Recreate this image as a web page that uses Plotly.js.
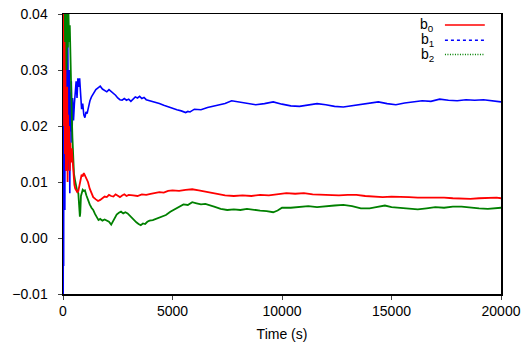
<!DOCTYPE html>
<html>
<head>
<meta charset="utf-8">
<script src="https://cdn.plot.ly/plotly-3.0.1.min.js"></script>
<style>html,body{margin:0;padding:0;background:#fff;}#chart{width:528px;height:344px;}</style>
</head>
<body>
<div id="chart"></div>
<script>
// Time (s)
var t_b0 = [0,15,30,50,70,90,110,130,150,170,190,210,230,250,280,310,340,370,400,440,480,520,560,600,650,700,750,800,850,900,950,1000,1070,1140,1220,1300,1380,1500,1600,1700,1800,1900,2000,2100,2200,2300,2400,2500,2600,2700,2800,2900,3000,3200,3400,3600,3800,4000,4200,4400,4600,4800,5000,5300,5600,5900,6200,6600,7000,7400,7800,8200,8600,9000,9400,9800,10200,10600,11000,11400,11800,12200,12600,13000,13400,13800,14200,14600,15000,15400,15800,16200,16600,17000,17400,17800,18200,18600,19000,19400,19800,20000];
var b0 = [0.040,0.030,0.038,0.020,0.035,0.015,0.030,0.012,0.026,0.018,0.027,0.010,0.022,0.014,0.020,0.012,0.017,0.0135,0.016,0.013,0.011,0.0095,0.0088,0.0085,0.0082,0.0084,0.0095,0.0108,0.0113,0.0110,0.0116,0.0112,0.0106,0.0100,0.0088,0.0079,0.0073,0.0069,0.0066,0.0068,0.0071,0.0074,0.0073,0.0077,0.0075,0.0074,0.0078,0.0076,0.0073,0.0076,0.0078,0.0075,0.0077,0.0076,0.0075,0.0078,0.0077,0.0079,0.0080,0.0082,0.0081,0.0084,0.0085,0.0084,0.0086,0.0087,0.0085,0.0082,0.0079,0.0076,0.0075,0.0076,0.0075,0.0077,0.0076,0.0078,0.0080,0.0079,0.0080,0.0078,0.0077,0.0077,0.0076,0.0077,0.0077,0.0075,0.0074,0.0073,0.0074,0.0074,0.0073,0.0072,0.0072,0.0073,0.0072,0.0071,0.0070,0.0070,0.0071,0.0072,0.0072,0.0071];

var t_b1 = [0,10,20,30,40,55,70,85,100,115,130,150,170,190,210,230,250,270,290,310,330,350,380,410,440,480,520,560,600,640,680,720,760,800,850,900,950,1000,1050,1100,1160,1230,1300,1400,1500,1600,1700,1800,1900,2000,2100,2200,2300,2400,2500,2600,2700,2800,2900,3000,3100,3200,3300,3400,3500,3600,3700,3800,3900,4000,4200,4400,4600,4800,5000,5200,5400,5600,5700,5800,6000,6300,6600,7000,7400,7700,8000,8400,8800,9200,9600,10000,10400,10800,11200,11600,12000,12400,12800,13200,13600,14000,14400,14800,15200,15600,16000,16400,16800,17200,17600,18000,18400,18800,19200,19600,20000];
var b1 = [0.000,-0.010,0.035,-0.005,0.040,0.010,0.038,0.005,0.036,0.015,0.040,0.012,0.035,0.020,0.038,0.018,0.032,0.012,0.030,0.008,0.026,0.019,0.028,0.017,0.025,0.021,0.024,0.026,0.028,0.025,0.0285,0.027,0.0285,0.026,0.023,0.024,0.022,0.0215,0.0225,0.0222,0.0234,0.0245,0.0252,0.0260,0.0265,0.0268,0.0271,0.0266,0.0263,0.0261,0.0265,0.0262,0.0258,0.0255,0.0250,0.0247,0.0246,0.0249,0.0246,0.0248,0.0244,0.0249,0.0252,0.0250,0.0253,0.0249,0.0251,0.0247,0.0246,0.0244,0.0243,0.0240,0.0237,0.0234,0.0232,0.0229,0.0227,0.0224,0.0226,0.0225,0.0230,0.0229,0.0233,0.0237,0.0240,0.0245,0.0243,0.0240,0.0238,0.0240,0.0243,0.0239,0.0236,0.0235,0.0238,0.0240,0.0238,0.0235,0.0234,0.0236,0.0239,0.0240,0.0243,0.0240,0.0238,0.0241,0.0243,0.0245,0.0244,0.0248,0.0246,0.0245,0.0247,0.0246,0.0247,0.0245,0.0243];

var t_b2 = [0,20,40,60,80,100,130,160,190,220,250,280,310,340,370,400,430,460,500,550,600,650,700,740,770,790,820,860,900,950,1000,1070,1140,1220,1300,1380,1460,1540,1620,1700,1800,1900,2000,2100,2200,2280,2360,2450,2550,2650,2750,2850,2950,3050,3150,3250,3350,3450,3550,3650,3750,3850,3950,4100,4300,4500,4700,4900,5100,5300,5500,5700,5900,6100,6300,6500,6700,6900,7200,7500,7800,8100,8400,8700,9000,9300,9600,9800,10000,10400,10800,11200,11600,12000,12400,12800,13200,13600,14000,14300,14700,15000,15400,15800,16200,16600,17000,17400,17800,18200,18600,19000,19400,19800,20000];
var b2 = [0.040,0.030,0.040,0.025,0.040,0.028,0.040,0.030,0.040,0.034,0.040,0.035,0.038,0.030,0.025,0.022,0.018,0.014,0.0115,0.0103,0.0090,0.0083,0.0080,0.0060,0.0038,0.0045,0.0075,0.0080,0.0086,0.0084,0.0085,0.0076,0.0067,0.0060,0.0054,0.0050,0.0043,0.0036,0.0032,0.0034,0.0031,0.0033,0.0031,0.0029,0.0024,0.0030,0.0038,0.0042,0.0045,0.0047,0.0044,0.0046,0.0044,0.0040,0.0035,0.0031,0.0028,0.0025,0.0023,0.0026,0.0025,0.0029,0.0031,0.0032,0.0035,0.0038,0.0041,0.0047,0.0051,0.0056,0.0060,0.0059,0.0064,0.0062,0.0060,0.0061,0.0058,0.0056,0.0052,0.0050,0.0051,0.0050,0.0052,0.0050,0.0049,0.0048,0.0046,0.0049,0.0054,0.0054,0.0056,0.0057,0.0055,0.0057,0.0058,0.0059,0.0057,0.0053,0.0053,0.0055,0.0058,0.0055,0.0054,0.0052,0.0051,0.0053,0.0055,0.0054,0.0056,0.0056,0.0054,0.0053,0.0052,0.0053,0.0054];

var seriesNames = ['b<sub>0</sub>','b<sub>1</sub>','b<sub>2</sub>'];
var seriesColors = ['#ff0000','#0000ff','#008000'];
var legendDash = ['solid','3px,3px','1px,1.5px'];
var xTicks = [0,5000,10000,15000,20000];
var yTicks = [-0.01,0.00,0.01,0.02,0.03,0.04];

var font = {family:'Liberation Sans, Arial, sans-serif', size:14, color:'#000'};
var traces = [
  {x:t_b1, y:b1, mode:'lines', line:{color:seriesColors[1], width:1.6}, showlegend:false},
  {x:t_b2, y:b2, mode:'lines', line:{color:seriesColors[2], width:1.8}, showlegend:false},
  {x:t_b0, y:b0, mode:'lines', line:{color:seriesColors[0], width:1.8}, showlegend:false}
];

var legY = [0.961, 0.906, 0.855];
var annotations = [], shapes = [];
for (var i=0;i<3;i++){
  annotations.push({xref:'paper', yref:'paper', x:0.852, y:legY[i], xanchor:'right', yanchor:'middle',
    text:seriesNames[i], showarrow:false, font:{family:font.family, size:14, color:'#000'}});
  shapes.push({type:'line', xref:'paper', yref:'paper', x0:0.872, x1:0.963, y0:legY[i], y1:legY[i],
    line:{color:seriesColors[i], width:1.5, dash:legendDash[i]}});
}

var layout = {
  width:528, height:344,
  margin:{l:63, r:27, t:13.5, b:50},
  paper_bgcolor:'#fff', plot_bgcolor:'#fff',
  font:font,
  showlegend:false,
  xaxis:{range:[0,20000], tickvals:xTicks, ticktext:xTicks.map(String), ticks:'outside', ticklen:4, tickwidth:1,
    showline:true, linecolor:'#000', linewidth:1.5, mirror:true, showgrid:false, zeroline:false,
    title:{text:'Time (s)', font:font, standoff:11}},
  yaxis:{range:[-0.01,0.04], tickvals:yTicks, tickformat:'.2f', ticks:'outside', ticklen:4, tickwidth:1,
    ticklabelstandoff:7,
    showline:true, linecolor:'#000', linewidth:1.5, mirror:true, showgrid:false, zeroline:false},
  annotations:annotations, shapes:shapes
};
Plotly.newPlot('chart', traces, layout, {displayModeBar:false, staticPlot:true});
</script>
</body>
</html>
